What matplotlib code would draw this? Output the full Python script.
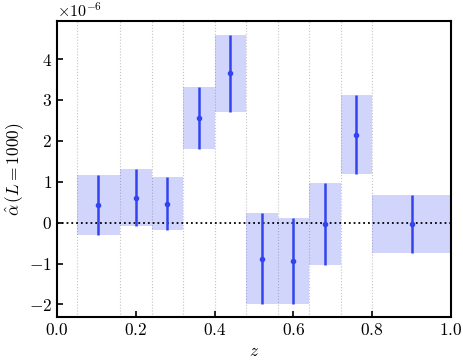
import matplotlib
matplotlib.use("Agg")
import matplotlib.pyplot as plt

plt.rcParams['font.family'] = 'serif'
plt.rcParams['font.serif'] = ['cmr10']
plt.rcParams['mathtext.fontset'] = 'cm'
plt.rcParams['axes.formatter.use_mathtext'] = True
plt.rcParams['font.size'] = 12.5

# bin edges in z, and estimate with 1-sigma error per bin (units of 1e-6)
edges = [0.05, 0.16, 0.24, 0.32, 0.40, 0.48, 0.56, 0.64, 0.72, 0.80, 1.0]
z_mid = [0.105, 0.20, 0.28, 0.36, 0.44, 0.52, 0.60, 0.68, 0.76, 0.90]
alpha_hat = [0.43, 0.61, 0.46, 2.56, 3.65, -0.88, -0.94, -0.04, 2.15, -0.04]
alpha_err = [0.74, 0.69, 0.65, 0.75, 0.94, 1.12, 1.06, 1.00, 0.96, 0.71]

scale = 1e-6
blue = '#3344ee'

fig, ax = plt.subplots(figsize=(4.63, 3.62), dpi=100)

for e in edges:
    ax.axvline(e, color='#c4c4c4', lw=0.8, ls=':', zorder=0)

for i in range(len(z_mid)):
    lo = (alpha_hat[i] - alpha_err[i]) * scale
    hi = (alpha_hat[i] + alpha_err[i]) * scale
    ax.fill_between([edges[i], edges[i + 1]], lo, hi, color=blue, alpha=0.22, lw=0, zorder=1)

ax.errorbar(z_mid, [a * scale for a in alpha_hat], yerr=[e * scale for e in alpha_err],
            fmt='o', ms=3, color=blue, ecolor=blue, elinewidth=1.8, capsize=0, zorder=3)

ax.axhline(0, color='black', ls=':', lw=1.3, zorder=2)

ax.set_xlim(0, 1)
ax.set_ylim(-2.31e-6, 4.93e-6)
ax.set_xlabel(r'$z$')
ax.set_ylabel(r'$\hat{\alpha}\,(L=1000)$', labelpad=2)
ax.tick_params(direction='in', length=4, width=1.2)
ax.yaxis.get_offset_text().set_fontsize(11.5)
for s in ax.spines.values():
    s.set_linewidth(1.5)

fig.subplots_adjust(left=0.123, right=0.974, top=0.942, bottom=0.124)
fig.savefig('out.png', dpi=100)
